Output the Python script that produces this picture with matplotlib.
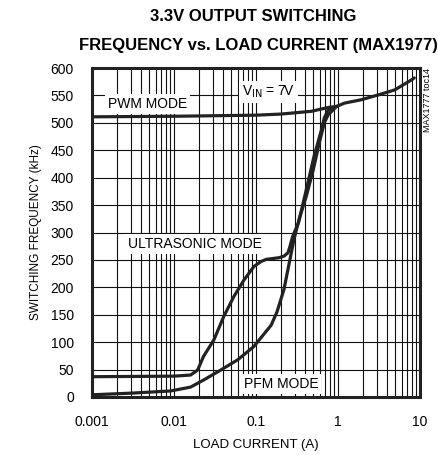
import numpy as np
import matplotlib
matplotlib.use("Agg")
import matplotlib.pyplot as plt
from matplotlib.ticker import LogLocator, NullFormatter, FixedLocator

plt.rcParams['font.family'] = ['Liberation Sans', 'DejaVu Sans']

# PWM mode curve (load current A, frequency kHz)
pwm_i = [0.001, 0.01, 0.1, 0.2, 0.47, 0.76, 0.96, 1.2, 1.9, 3.1, 4.9, 8.0, 8.5]
pwm_f = [511, 512, 514, 516, 521, 528, 530, 536, 542, 551, 560, 579, 582]

# ultrasonic mode curve
us_i = [0.001, 0.01, 0.0159, 0.0194, 0.0229, 0.0306, 0.0405, 0.0536, 0.0711,
        0.0942, 0.115, 0.133, 0.19, 0.22, 0.245, 0.26, 0.28, 0.33, 0.41, 0.51,
        0.63, 0.68, 0.76, 0.96]
us_f = [37, 38, 40, 49, 74, 104, 147, 183, 213, 238, 247, 251, 254, 257, 263,
        275, 293, 318, 378, 439, 488, 509, 524, 530]

# PFM mode curve
pfm_i = [0.001, 0.003, 0.0091, 0.0159, 0.023, 0.037, 0.06, 0.094, 0.153, 0.18,
         0.219, 0.25, 0.29, 0.335, 0.41, 0.5, 0.59, 0.68, 0.76, 0.96]
pfm_f = [4, 7, 11, 18, 31, 49, 68, 92, 131, 155, 196, 239, 287, 324, 366, 415,
         463, 500, 515, 530]

x_ticks = [0.001, 0.01, 0.1, 1, 10]
x_labels = ["0.001", "0.01", "0.1", "1", "10"]
y_ticks = list(range(0, 601, 50))

fig = plt.figure(figsize=(4.38, 4.55), dpi=100)
ax = fig.add_axes([0.21, 0.1275, 0.749, 0.723])

col = "#222222"
for xs, ys in [(pwm_i, pwm_f), (us_i, us_f), (pfm_i, pfm_f)]:
    ax.plot(xs, ys, color=col, lw=2.3, solid_capstyle="round",
            solid_joinstyle="round", zorder=3)

ax.set_xscale("log")
ax.set_xlim(0.001, 10)
ax.set_ylim(0, 600)
ax.xaxis.set_major_locator(FixedLocator(x_ticks))
ax.set_xticklabels(x_labels)
ax.xaxis.set_minor_locator(LogLocator(base=10, subs=np.arange(2, 10)))
ax.xaxis.set_minor_formatter(NullFormatter())
ax.set_yticks(y_ticks)

ax.grid(True, which="both", axis="x", color="#111111", lw=0.8)
ax.grid(True, which="major", axis="y", color="#111111", lw=0.8)
ax.tick_params(which="both", length=0)
ax.tick_params(axis="x", pad=13, labelsize=10)
ax.tick_params(axis="y", pad=13, labelsize=10)
for s in ax.spines.values():
    s.set_linewidth(2.2)
    s.set_color(col)

ax.set_xlabel("LOAD CURRENT (A)", fontsize=9.5, labelpad=7)
ax.set_ylabel("SWITCHING FREQUENCY (kHz)", fontsize=8.5, labelpad=6)

box = dict(facecolor="white", edgecolor="none", pad=2)
ax.text(0.00157, 534, "PWM MODE", fontsize=10, ha="left", va="center", bbox=box, zorder=4)
ax.text(0.0674, 556, r"V$_{\rm IN}$ = 7V", fontsize=10, ha="left", va="center", bbox=box, zorder=4)
ax.text(0.00277, 279, "ULTRASONIC MODE", fontsize=10, ha="left", va="center", bbox=box, zorder=4)
ax.text(0.0713, 24, "PFM MODE", fontsize=10, ha="left", va="center", bbox=box, zorder=4)

fig.text(0.977, 0.85, "MAX1777 toc14", fontsize=6.5, rotation=90, ha="center", va="top")

fig.text(0.578, 0.963, "3.3V OUTPUT SWITCHING", fontsize=12, fontweight="bold",
         ha="center", va="center")
fig.text(0.59, 0.901, "FREQUENCY vs. LOAD CURRENT (MAX1977)", fontsize=12, fontweight="bold",
         ha="center", va="center")

fig.savefig("out.png", dpi=100)
